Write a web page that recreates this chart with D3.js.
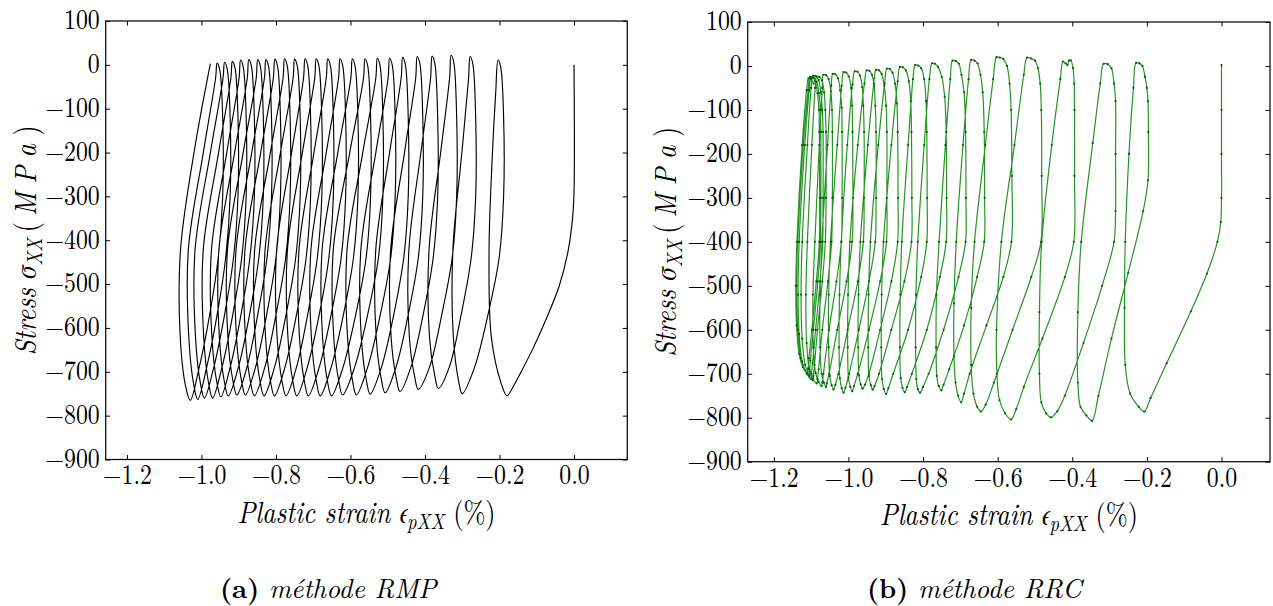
<!DOCTYPE html>
<html><head><meta charset="utf-8">
<script src="https://cdn.jsdelivr.net/npm/d3@7"></script>
<style>body{margin:0;background:#fff}</style>
</head><body>
<svg id="chart" width="1273" height="606"></svg>
<script>
// ---------- data ----------
const xTickValues = [-1.2, -1.0, -0.8, -0.6, -0.4, -0.2, 0.0];
const yTickValues = [100, 0, -100, -200, -300, -400, -500, -600, -700, -800, -900];
const xTickLabels = ["\u22121.2", "\u22121.0", "\u22120.8", "\u22120.6", "\u22120.4", "\u22120.2", "0.0"];
const yTickLabels = ["100", "0", "\u2212100", "\u2212200", "\u2212300", "\u2212400", "\u2212500", "\u2212600", "\u2212700", "\u2212800", "\u2212900"];
const captions = [["(a)", " méthode RMP"], ["(b)", " méthode RRC"]];

// RMP simulation: [plastic strain %, stress MPa]
const rmpCurve = [
[0,0],[0,-290],[-0.004,-350],[-0.016,-425],[-0.040,-505],[-0.075,-580],[-0.112,-650],[-0.145,-705],[-0.166,-738],[-0.180,-755],
[-0.195,-728],[-0.222,-620],[-0.228,-420],[-0.220,-220],[-0.210,-60],[-0.204,11],
[-0.197,-4],[-0.189,-120],[-0.189,-300],[-0.201,-440],[-0.231,-570],[-0.267,-690],[-0.300,-750],
[-0.310,-720],[-0.324,-620],[-0.325,-420],[-0.301,-200],[-0.283,-30],[-0.279,19],
[-0.272,4],[-0.264,-120],[-0.264,-300],[-0.276,-440],[-0.303,-570],[-0.335,-690],[-0.364,-738],
[-0.374,-708],[-0.388,-620],[-0.389,-420],[-0.358,-200],[-0.334,-30],[-0.330,22],
[-0.323,7],[-0.315,-120],[-0.315,-300],[-0.327,-440],[-0.355,-570],[-0.388,-690],[-0.418,-740],
[-0.428,-710],[-0.442,-620],[-0.443,-420],[-0.411,-200],[-0.385,-30],[-0.381,20],
[-0.374,5],[-0.366,-120],[-0.366,-300],[-0.378,-440],[-0.405,-570],[-0.438,-690],[-0.467,-745],
[-0.477,-715],[-0.491,-620],[-0.492,-420],[-0.455,-200],[-0.425,-30],[-0.421,19],
[-0.414,4],[-0.406,-120],[-0.406,-300],[-0.418,-440],[-0.445,-570],[-0.478,-690],[-0.507,-748],
[-0.517,-718],[-0.531,-620],[-0.532,-420],[-0.495,-200],[-0.464,-30],[-0.460,17],
[-0.453,2],[-0.445,-120],[-0.445,-300],[-0.457,-440],[-0.484,-570],[-0.517,-690],[-0.547,-751],
[-0.557,-721],[-0.571,-620],[-0.572,-420],[-0.532,-200],[-0.499,-30],[-0.495,15],
[-0.488,0],[-0.480,-120],[-0.480,-300],[-0.492,-440],[-0.520,-570],[-0.554,-690],[-0.584,-753],
[-0.594,-723],[-0.608,-620],[-0.609,-420],[-0.567,-200],[-0.532,-30],[-0.528,15],
[-0.521,0],[-0.513,-120],[-0.513,-300],[-0.525,-440],[-0.554,-570],[-0.589,-690],[-0.621,-753],
[-0.631,-723],[-0.645,-620],[-0.646,-420],[-0.602,-200],[-0.565,-30],[-0.561,14],
[-0.554,-1],[-0.546,-120],[-0.546,-300],[-0.558,-440],[-0.586,-570],[-0.620,-690],[-0.651,-755],
[-0.661,-725],[-0.675,-620],[-0.676,-420],[-0.634,-200],[-0.599,-30],[-0.595,14],
[-0.588,-1],[-0.580,-120],[-0.580,-300],[-0.592,-440],[-0.619,-570],[-0.652,-690],[-0.681,-755],
[-0.691,-725],[-0.705,-620],[-0.706,-420],[-0.665,-200],[-0.632,-30],[-0.628,14],
[-0.621,-1],[-0.613,-120],[-0.613,-300],[-0.625,-440],[-0.652,-570],[-0.684,-690],[-0.713,-755],
[-0.723,-725],[-0.737,-620],[-0.738,-420],[-0.698,-200],[-0.665,-30],[-0.661,14],
[-0.654,-1],[-0.646,-120],[-0.646,-300],[-0.658,-440],[-0.684,-570],[-0.716,-690],[-0.744,-755],
[-0.754,-725],[-0.768,-620],[-0.769,-420],[-0.729,-200],[-0.696,-30],[-0.692,14],
[-0.685,-1],[-0.677,-120],[-0.677,-300],[-0.689,-440],[-0.715,-570],[-0.745,-690],[-0.773,-755],
[-0.783,-725],[-0.797,-620],[-0.798,-420],[-0.758,-200],[-0.726,-30],[-0.722,14],
[-0.715,-1],[-0.707,-120],[-0.707,-300],[-0.719,-440],[-0.745,-570],[-0.776,-690],[-0.804,-755],
[-0.814,-725],[-0.828,-620],[-0.829,-420],[-0.788,-200],[-0.754,-30],[-0.750,13],
[-0.743,-2],[-0.735,-120],[-0.735,-300],[-0.747,-440],[-0.773,-570],[-0.804,-690],[-0.832,-755],
[-0.842,-725],[-0.856,-620],[-0.857,-420],[-0.815,-200],[-0.781,-30],[-0.777,14],
[-0.770,-1],[-0.762,-120],[-0.762,-300],[-0.774,-440],[-0.800,-570],[-0.830,-690],[-0.858,-755],
[-0.868,-725],[-0.882,-620],[-0.883,-420],[-0.841,-200],[-0.807,-30],[-0.803,13],
[-0.796,-2],[-0.788,-120],[-0.788,-300],[-0.800,-440],[-0.825,-570],[-0.855,-690],[-0.882,-753],
[-0.892,-723],[-0.906,-620],[-0.907,-420],[-0.865,-200],[-0.831,-30],[-0.827,12],
[-0.820,-3],[-0.812,-120],[-0.812,-300],[-0.824,-440],[-0.849,-570],[-0.878,-690],[-0.905,-753],
[-0.915,-723],[-0.929,-620],[-0.930,-420],[-0.888,-200],[-0.853,-30],[-0.849,12],
[-0.842,-3],[-0.834,-120],[-0.834,-300],[-0.846,-440],[-0.871,-570],[-0.901,-690],[-0.928,-755],
[-0.938,-725],[-0.952,-620],[-0.953,-420],[-0.911,-200],[-0.877,-30],[-0.873,12],
[-0.866,-3],[-0.858,-120],[-0.858,-300],[-0.870,-440],[-0.894,-570],[-0.923,-690],[-0.948,-757],
[-0.958,-727],[-0.972,-620],[-0.973,-420],[-0.932,-200],[-0.899,-30],[-0.895,11],
[-0.888,-4],[-0.880,-120],[-0.880,-300],[-0.892,-440],[-0.916,-570],[-0.945,-690],[-0.970,-760],
[-0.980,-730],[-0.994,-620],[-0.995,-420],[-0.954,-200],[-0.921,-30],[-0.917,8],
[-0.910,-7],[-0.902,-120],[-0.902,-300],[-0.914,-440],[-0.938,-570],[-0.967,-690],[-0.992,-760],
[-1.002,-730],[-1.016,-620],[-1.017,-420],[-0.976,-200],[-0.942,-30],[-0.938,6],
[-0.931,-9],[-0.923,-120],[-0.923,-300],[-0.935,-440],[-0.958,-570],[-0.986,-690],[-1.010,-763],
[-1.020,-733],[-1.034,-620],[-1.035,-420],[-0.995,-200],[-0.962,-30],[-0.958,4],
[-0.951,-11],[-0.943,-120],[-0.943,-300],[-0.955,-440],[-0.978,-570],[-1.006,-690],[-1.030,-765],
[-1.042,-735],[-1.057,-620],[-1.056,-420],[-1.016,-180],[-0.976,3]
];

// RRC experiment: [plastic strain %, stress MPa]
const rrcCurve = [
[0,2],[0,-100],[0,-200],[0,-300],[-0.002,-355],[-0.011,-400],[-0.039,-472],[-0.082,-558],[-0.147,-676],[-0.190,-755],[-0.207,-786],
[-0.222,-775],[-0.245,-745],[-0.258,-680],[-0.260,-550],[-0.258,-400],[-0.248,-200],[-0.236,-50],[-0.229,7],
[-0.220,6],[-0.212,0],[-0.205,-25],[-0.200,-50],[-0.197,-80],[-0.196,-150],[-0.197,-260],[-0.210,-330],[-0.250,-470],[-0.295,-620],[-0.330,-750],[-0.347,-807],
[-0.362,-795],[-0.378,-775],[-0.385,-720],[-0.385,-560],[-0.376,-400],[-0.345,-175],[-0.325,-40],[-0.316,5],
[-0.305,4],[-0.295,-5],[-0.288,-40],[-0.284,-80],[-0.284,-200],[-0.284,-330],[-0.288,-400],[-0.320,-500],[-0.370,-630],[-0.420,-750],[-0.440,-785],[-0.457,-799],
[-0.470,-790],[-0.483,-765],[-0.488,-700],[-0.488,-560],[-0.482,-400],[-0.455,-180],[-0.432,-30],[-0.425,10],[-0.418,6],[-0.413,2],[-0.409,12],[-0.404,13],
[-0.398,-5],[-0.395,-40],[-0.394,-100],[-0.394,-250],[-0.396,-400],[-0.420,-480],[-0.480,-620],[-0.530,-730],[-0.550,-780],[-0.564,-804],
[-0.580,-790],[-0.595,-760],[-0.602,-700],[-0.603,-600],[-0.590,-400],[-0.555,-180],[-0.530,-20],[-0.521,19],
[-0.510,17],[-0.500,12],[-0.492,-5],[-0.486,-40],[-0.483,-100],[-0.482,-250],[-0.484,-400],[-0.510,-480],[-0.560,-600],[-0.610,-720],[-0.632,-770],[-0.645,-786],
[-0.655,-775],[-0.665,-745],[-0.671,-680],[-0.671,-550],[-0.662,-400],[-0.633,-180],[-0.612,-30],[-0.603,20],
[-0.594,19],[-0.585,16],[-0.575,0],[-0.568,-40],[-0.564,-100],[-0.562,-250],[-0.563,-400],[-0.585,-480],[-0.630,-590],[-0.675,-700],[-0.690,-745],[-0.698,-765],
[-0.706,-750],[-0.713,-720],[-0.717,-660],[-0.717,-540],[-0.711,-400],[-0.693,-180],[-0.678,-30],[-0.671,14],
[-0.662,12],[-0.654,6],[-0.646,-20],[-0.640,-60],[-0.636,-150],[-0.635,-300],[-0.636,-400],[-0.655,-480],[-0.690,-590],[-0.730,-690],[-0.745,-725],[-0.751,-738],
[-0.758,-728],[-0.763,-705],[-0.765,-640],[-0.764,-520],[-0.757,-400],[-0.740,-180],[-0.727,-30],[-0.721,12],
[-0.712,11],[-0.704,5],[-0.697,-20],[-0.690,-60],[-0.686,-150],[-0.685,-300],[-0.686,-400],[-0.705,-480],[-0.745,-600],[-0.785,-700],[-0.800,-730],[-0.808,-743],
[-0.814,-735],[-0.818,-712],[-0.820,-640],[-0.819,-520],[-0.814,-400],[-0.797,-180],[-0.783,-30],[-0.776,6],
[-0.768,5],[-0.760,-2],[-0.750,-25],[-0.742,-70],[-0.738,-150],[-0.737,-300],[-0.738,-400],[-0.755,-480],[-0.790,-600],[-0.830,-700],[-0.843,-730],[-0.849,-742],
[-0.855,-732],[-0.860,-710],[-0.862,-640],[-0.861,-520],[-0.857,-400],[-0.840,-180],[-0.827,-30],[-0.821,2],
[-0.813,1],[-0.805,-5],[-0.797,-30],[-0.792,-80],[-0.790,-150],[-0.789,-300],[-0.790,-400],[-0.805,-480],[-0.840,-600],[-0.880,-700],[-0.893,-733],[-0.899,-746],
[-0.905,-735],[-0.910,-712],[-0.912,-640],[-0.911,-520],[-0.906,-400],[-0.885,-180],[-0.868,-35],[-0.862,-2],
[-0.854,-3],[-0.846,-10],[-0.838,-35],[-0.833,-80],[-0.831,-150],[-0.830,-300],[-0.831,-400],[-0.850,-490],[-0.885,-600],[-0.918,-700],[-0.930,-728],[-0.935,-736],
[-0.940,-726],[-0.945,-705],[-0.947,-640],[-0.946,-520],[-0.941,-400],[-0.920,-180],[-0.903,-40],[-0.897,-6],
[-0.889,-7],[-0.882,-15],[-0.875,-40],[-0.870,-85],[-0.868,-150],[-0.867,-300],[-0.868,-400],[-0.885,-490],[-0.915,-600],[-0.945,-700],[-0.956,-725],[-0.962,-734],
[-0.967,-724],[-0.972,-703],[-0.974,-640],[-0.973,-520],[-0.968,-400],[-0.948,-180],[-0.932,-40],[-0.926,-9],
[-0.918,-10],[-0.911,-18],[-0.904,-45],[-0.899,-90],[-0.897,-150],[-0.897,-300],[-0.898,-400],[-0.915,-490],[-0.945,-600],[-0.975,-700],[-0.985,-728],[-0.990,-740],
[-0.995,-730],[-1.000,-708],[-1.002,-640],[-1.001,-520],[-0.996,-400],[-0.975,-180],[-0.957,-40],[-0.951,-10],
[-0.944,-11],[-0.937,-20],[-0.931,-45],[-0.928,-90],[-0.926,-150],[-0.926,-300],[-0.928,-400],[-0.945,-490],[-0.972,-600],[-0.998,-700],[-1.008,-732],[-1.013,-743],
[-1.018,-733],[-1.023,-710],[-1.025,-640],[-1.024,-520],[-1.019,-400],[-1.003,-180],[-0.989,-42],[-0.983,-12],
[-0.976,-13],[-0.969,-22],[-0.963,-48],[-0.960,-90],[-0.958,-150],[-0.958,-300],[-0.960,-400],[-0.975,-490],[-1.002,-600],[-1.027,-700],[-1.035,-725],[-1.040,-736],
[-1.045,-726],[-1.050,-705],[-1.053,-640],[-1.053,-520],[-1.048,-400],[-1.030,-180],[-1.018,-45],[-1.013,-14],
[-1.006,-15],[-0.999,-24],[-0.993,-50],[-0.990,-90],[-0.989,-150],[-0.988,-300],[-0.990,-400],[-1.005,-490],[-1.030,-600],[-1.052,-700],[-1.058,-722],[-1.060,-730],
[-1.066,-720],[-1.072,-700],[-1.076,-640],[-1.076,-520],[-1.071,-400],[-1.056,-180],[-1.046,-45],[-1.042,-18],
[-1.035,-19],[-1.028,-28],[-1.022,-55],[-1.018,-95],[-1.017,-150],[-1.017,-300],[-1.019,-400],[-1.032,-490],[-1.052,-600],[-1.067,-700],[-1.070,-720],[-1.072,-728],
[-1.080,-718],[-1.088,-698],[-1.094,-640],[-1.095,-520],[-1.090,-400],[-1.078,-180],[-1.070,-50],[-1.067,-20],
[-1.060,-21],[-1.053,-30],[-1.047,-58],[-1.044,-100],[-1.043,-150],[-1.043,-300],[-1.045,-400],[-1.055,-490],[-1.070,-600],[-1.080,-690],[-1.083,-712],[-1.085,-722],
[-1.095,-712],[-1.105,-690],[-1.112,-630],[-1.114,-520],[-1.110,-400],[-1.098,-180],[-1.089,-50],[-1.085,-24],
[-1.078,-25],[-1.071,-33],[-1.065,-60],[-1.062,-100],[-1.060,-150],[-1.060,-300],[-1.062,-400],[-1.070,-490],[-1.083,-600],[-1.091,-680],[-1.094,-705],[-1.095,-715],
[-1.105,-705],[-1.116,-680],[-1.124,-620],[-1.127,-520],[-1.124,-400],[-1.110,-180],[-1.100,-50],[-1.095,-22],
[-1.088,-23],[-1.080,-32],[-1.074,-60],[-1.070,-100],[-1.068,-150],[-1.068,-300],[-1.069,-400],[-1.076,-490],[-1.088,-600],[-1.096,-675],[-1.099,-700],[-1.100,-712],
[-1.112,-700],[-1.124,-672],[-1.132,-610],[-1.135,-520],[-1.132,-400],[-1.117,-180],[-1.105,-55],[-1.100,-26],
[-1.093,-27],[-1.085,-36],[-1.079,-62],[-1.075,-100],[-1.074,-150],[-1.074,-300],[-1.075,-400],[-1.082,-490],[-1.094,-600],[-1.102,-670],[-1.104,-695],[-1.105,-705],
[-1.117,-692],[-1.128,-665],[-1.136,-600],[-1.139,-500],[-1.136,-400],[-1.121,-180],[-1.108,-55],[-1.103,-25],
[-1.096,-26],[-1.089,-35],[-1.083,-62],[-1.079,-100],[-1.078,-150],[-1.077,-300],[-1.078,-400],[-1.086,-490],[-1.098,-600],[-1.106,-665],[-1.108,-688],[-1.110,-698],
[-1.122,-685],[-1.132,-655],[-1.139,-590],[-1.141,-500],[-1.138,-400],[-1.124,-180],[-1.112,-55],[-1.107,-28],[-1.100,-30],[-1.093,-40]
];

// ---------- drawing ----------
const FONT = '"Latin Modern Roman", "Liberation Serif", serif';
const GREEK = '"FreeSerif", "Liberation Serif", serif';
const SQ = 0.85; // horizontal squeeze of the figure text
const svg = d3.select("#chart");

const panels = [
  {left:105.7, right:627.3, top:21, bottom:459.5, xDom:[-1.257, 0.143], data:rmpCurve,
   color:"#000", markers:false, ylabX:36, xlabY:523, cap:captions[0], capX:220},
  {left:747.7, right:1270, top:22, bottom:461.7, xDom:[-1.27, 0.13], data:rrcCurve,
   color:"#008000", markers:true, ylabX:676, xlabY:525, cap:captions[1], capX:867}
];

panels.forEach(p => {
  const x = d3.scaleLinear().domain(p.xDom).range([p.left, p.right]);
  const y = d3.scaleLinear().domain([-900, 100]).range([p.bottom, p.top]);
  const g = svg.append("g");

  const cid = "clip" + Math.round(p.left);
  svg.append("clipPath").attr("id", cid).append("rect")
    .attr("x", p.left).attr("y", p.top).attr("width", p.right - p.left).attr("height", p.bottom - p.top);

  const line = d3.line().x(d => x(d[0])).y(d => y(d[1])).curve(d3.curveCatmullRom.alpha(0.5));
  g.append("path").datum(p.data)
    .attr("clip-path", `url(#${cid})`)
    .attr("d", line)
    .attr("fill", "none")
    .attr("stroke", p.color)
    .attr("stroke-width", p.markers ? 1.2 : 1.15)
    .attr("stroke-opacity", p.markers ? 0.85 : 1)
    .attr("stroke-linejoin", "round");

  if (p.markers) {
    g.append("g").selectAll("circle").data(p.data).join("circle")
      .attr("cx", d => x(d[0])).attr("cy", d => y(d[1])).attr("r", 1.1)
      .attr("fill", "#006400");
  }

  // axes: ticks inward on all four sides
  const tl = 4.5;
  const axB = d3.axisBottom(x).tickValues(xTickValues).tickSize(-tl).tickFormat((d,i) => xTickLabels[i]).tickPadding(5);
  const axT = d3.axisTop(x).tickValues(xTickValues).tickSize(-tl).tickFormat("");
  const axL = d3.axisLeft(y).tickValues(yTickValues).tickSize(-tl).tickFormat((d,i) => yTickLabels[i]).tickPadding(7);
  const axR = d3.axisRight(y).tickValues(yTickValues).tickSize(-tl).tickFormat("");

  const gb = g.append("g").attr("transform", `translate(0,${p.bottom})`).call(axB);
  const gt = g.append("g").attr("transform", `translate(0,${p.top})`).call(axT);
  const gl = g.append("g").attr("transform", `translate(${p.left},0)`).call(axL);
  const gr = g.append("g").attr("transform", `translate(${p.right},0)`).call(axR);
  [gb, gt, gl, gr].forEach(a => {
    a.select(".domain").remove();
    a.selectAll(".tick line").attr("stroke", "#000").attr("stroke-width", 1);
  });
  gb.selectAll(".tick text").style("font-family", FONT).style("font-size", "28px")
    .attr("dy", "0.71em").attr("fill", "#000").attr("transform", `scale(${SQ},1)`);
  gl.selectAll(".tick text").style("font-family", FONT).style("font-size", "28px")
    .attr("dy", "0.28em").attr("fill", "#000").attr("transform", `scale(${SQ},1)`);

  g.append("rect").attr("x", p.left).attr("y", p.top)
    .attr("width", p.right - p.left).attr("height", p.bottom - p.top)
    .attr("fill", "none").attr("stroke", "#111").attr("stroke-width", 1.3);

  // y label
  const yl = g.append("text")
    .attr("transform", `translate(${p.ylabX},${(p.top + p.bottom) / 2}) rotate(-90) scale(${SQ},1)`)
    .attr("text-anchor", "middle").style("font-family", FONT).style("font-size", "31px").attr("fill", "#000");
  yl.append("tspan").style("font-style", "italic").text("Stress ");
  yl.append("tspan").style("font-style", "italic").style("font-family", GREEK).text("σ");
  yl.append("tspan").style("font-style", "italic").style("font-size", "22px").attr("dy", 6).text("XX");
  yl.append("tspan").attr("dy", -6).attr("dx", 7).text("(");
  yl.append("tspan").style("font-style", "italic").attr("dx", 7).attr("letter-spacing", 10).text("MPa");
  yl.append("tspan").text(")");

  // x label
  const xc = (p.left + p.right) / 2;
  const xl = g.append("text")
    .attr("transform", `translate(${xc},${p.xlabY}) scale(${SQ},1)`)
    .attr("text-anchor", "middle").style("font-family", FONT).style("font-size", "31px").attr("fill", "#000");
  xl.append("tspan").style("font-style", "italic").text("Plastic strain ");
  xl.append("tspan").style("font-style", "italic").style("font-family", GREEK).text("ϵ");
  xl.append("tspan").style("font-style", "italic").style("font-size", "22px").attr("dy", 6).text("pXX");
  xl.append("tspan").attr("dy", -6).text(" (%)");

  // caption
  const ct = svg.append("text").attr("x", p.capX).attr("y", 598)
    .style("font-family", FONT).style("font-size", "27px").attr("fill", "#000");
  ct.append("tspan").style("font-weight", "bold").text(p.cap[0]);
  ct.append("tspan").style("font-style", "italic").text(p.cap[1]);
});
</script>
</body></html>
